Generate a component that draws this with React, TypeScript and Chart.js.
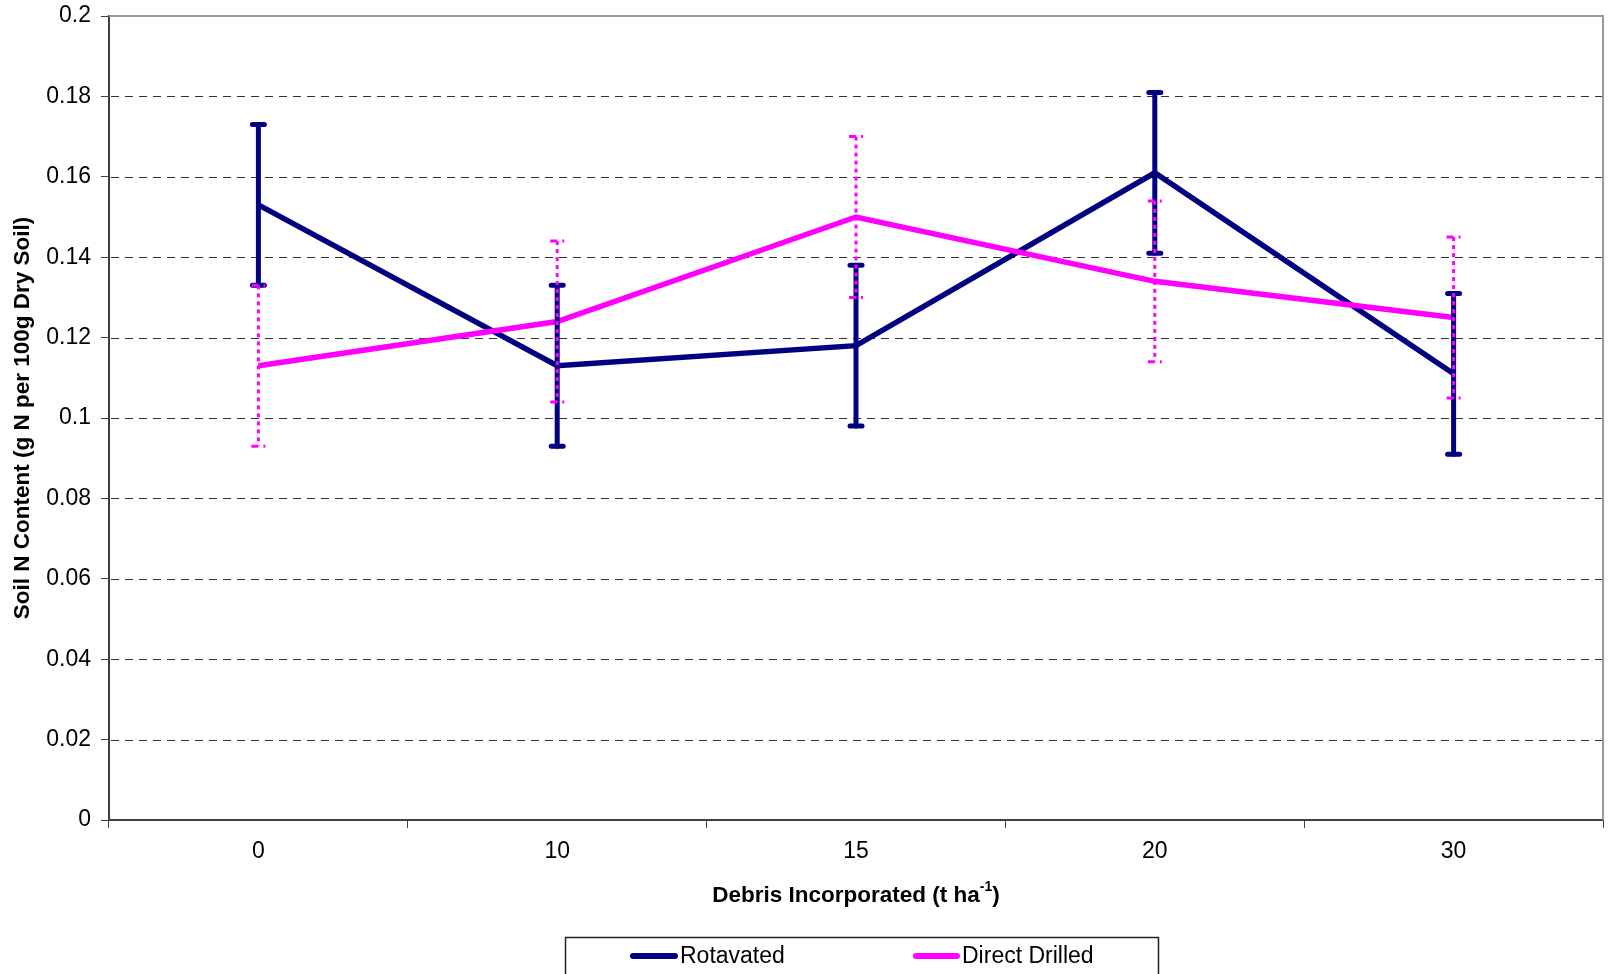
import React, { useEffect, useRef } from "react";
import { Chart, registerables } from "chart.js";

Chart.register(...registerables);

const categories = ["0", "10", "15", "20", "30"];
const rotavated = [0.153, 0.113, 0.118, 0.161, 0.111];
const rotavatedErr = [0.02, 0.02, 0.02, 0.02, 0.02];
const directDrilled = [0.113, 0.124, 0.15, 0.134, 0.125];
const directDrilledErr = [0.02, 0.02, 0.02, 0.02, 0.02];
const yTicks = [0, 0.02, 0.04, 0.06, 0.08, 0.1, 0.12, 0.14, 0.16, 0.18, 0.2];

const NAVY = "#000080";
const MAGENTA = "#FF00FF";
const FONT = "'Liberation Sans', Arial, sans-serif";

const framePlugin = {
  id: "frame",
  beforeDatasetsDraw(chart: any) {
    const { ctx, chartArea, scales } = chart;
    const y = scales.y;
    ctx.save();
    ctx.lineWidth = 1;
    ctx.strokeStyle = "#333333";
    ctx.setLineDash([8, 6]);
    yTicks.forEach((v) => {
      if (v <= 0 || v >= 0.2) return;
      const py = Math.round(y.getPixelForValue(v)) + 0.5;
      ctx.beginPath();
      ctx.moveTo(chartArea.left + 2, py);
      ctx.lineTo(chartArea.right, py);
      ctx.stroke();
    });
    ctx.setLineDash([]);
    ctx.strokeStyle = "#9a9a9a";
    ctx.lineWidth = 2;
    ctx.beginPath();
    ctx.moveTo(chartArea.left, chartArea.top);
    ctx.lineTo(chartArea.right, chartArea.top);
    ctx.lineTo(chartArea.right, chartArea.bottom);
    ctx.stroke();
    ctx.restore();
  },
};

function drawErr(chart: any, values: number[], errs: number[], color: string, dashed: boolean) {
  const { ctx, scales } = chart;
  const x = scales.x;
  const y = scales.y;
  ctx.save();
  ctx.strokeStyle = color;
  values.forEach((v, i) => {
    const px = x.getPixelForValue(i);
    const top = y.getPixelForValue(v + errs[i]);
    const bot = y.getPixelForValue(v - errs[i]);
    if (dashed) {
      ctx.lineWidth = 3;
      ctx.lineCap = "butt";
      ctx.setLineDash([4, 4]);
      ctx.beginPath();
      ctx.moveTo(px, top);
      ctx.lineTo(px, bot);
      ctx.stroke();
      ctx.setLineDash([7, 5]);
      [top, bot].forEach((yy) => {
        ctx.beginPath();
        ctx.moveTo(px - 7, yy);
        ctx.lineTo(px + 7, yy);
        ctx.stroke();
      });
    } else {
      ctx.lineWidth = 5;
      ctx.lineCap = "round";
      ctx.setLineDash([]);
      ctx.beginPath();
      ctx.moveTo(px, top);
      ctx.lineTo(px, bot);
      ctx.stroke();
      [top, bot].forEach((yy) => {
        ctx.beginPath();
        ctx.moveTo(px - 6, yy);
        ctx.lineTo(px + 6, yy);
        ctx.stroke();
      });
    }
  });
  ctx.restore();
}

const errPlugin = {
  id: "errbars",
  afterDatasetsDraw(chart: any) {
    drawErr(chart, rotavated, rotavatedErr, NAVY, false);
    drawErr(chart, directDrilled, directDrilledErr, MAGENTA, true);
  },
};

const textPlugin = {
  id: "texts",
  afterDraw(chart: any) {
    const { ctx, chartArea } = chart;
    ctx.save();
    ctx.fillStyle = "#000";
    ctx.font = `bold 22.5px ${FONT}`;
    ctx.textAlign = "center";
    ctx.textBaseline = "middle";
    ctx.translate(23, (chartArea.top + chartArea.bottom) / 2);
    ctx.rotate(-Math.PI / 2);
    ctx.fillText("Soil N Content (g N per 100g Dry Soil)", 0, 0);
    ctx.restore();

    ctx.save();
    ctx.fillStyle = "#000";
    ctx.textBaseline = "middle";
    ctx.textAlign = "left";
    const main = "Debris Incorporated (t ha";
    const sup = "-1";
    const close = ")";
    ctx.font = `bold 22.5px ${FONT}`;
    const w1 = ctx.measureText(main).width;
    const w3 = ctx.measureText(close).width;
    ctx.font = `bold 14px ${FONT}`;
    const w2 = ctx.measureText(sup).width;
    const total = w1 + w2 + w3;
    const cx = (chartArea.left + chartArea.right) / 2;
    let sx = cx - total / 2;
    const cy = 896;
    ctx.font = `bold 22.5px ${FONT}`;
    ctx.fillText(main, sx, cy);
    sx += w1;
    ctx.font = `bold 14px ${FONT}`;
    ctx.fillText(sup, sx, cy - 9);
    sx += w2;
    ctx.font = `bold 22.5px ${FONT}`;
    ctx.fillText(close, sx, cy);
    ctx.restore();

    ctx.save();
    ctx.strokeStyle = "#222";
    ctx.lineWidth = 1.5;
    ctx.strokeRect(565.5, 937.5, 593, 60);
    ctx.lineCap = "round";
    ctx.lineWidth = 6;
    ctx.strokeStyle = NAVY;
    ctx.beginPath();
    ctx.moveTo(633, 956);
    ctx.lineTo(675, 956);
    ctx.stroke();
    ctx.strokeStyle = MAGENTA;
    ctx.beginPath();
    ctx.moveTo(916, 956);
    ctx.lineTo(957, 956);
    ctx.stroke();
    ctx.fillStyle = "#000";
    ctx.font = `23px ${FONT}`;
    ctx.textBaseline = "middle";
    ctx.textAlign = "left";
    ctx.fillText("Rotavated", 680, 957);
    ctx.fillText("Direct Drilled", 962, 957);
    ctx.restore();
  },
};

export default function App() {
  const ref = useRef<HTMLCanvasElement>(null);
  useEffect(() => {
    if (!ref.current) return;
    const chart = new Chart(ref.current, {
      type: "line",
      data: {
        labels: categories,
        datasets: [
          {
            label: "Rotavated",
            data: rotavated,
            borderColor: NAVY,
            backgroundColor: NAVY,
            borderWidth: 5.5,
            pointRadius: 0,
            tension: 0,
            order: 1,
          },
          {
            label: "Direct Drilled",
            data: directDrilled,
            borderColor: MAGENTA,
            backgroundColor: MAGENTA,
            borderWidth: 5.5,
            pointRadius: 0,
            tension: 0,
            order: 0,
          },
        ],
      },
      options: {
        responsive: false,
        animation: false,
        devicePixelRatio: 1,
        layout: { padding: { left: 0, top: 16, right: 6, bottom: 0 } },
        plugins: {
          legend: { display: false },
          tooltip: { enabled: false },
          title: { display: false },
        },
        scales: {
          x: {
            type: "category",
            offset: true,
            grid: {
              display: true,
              drawOnChartArea: false,
              drawTicks: true,
              tickLength: 8,
              offset: true,
              color: "#404040",
              lineWidth: 1,
            },
            border: { display: true, color: "#404040", width: 2 },
            ticks: {
              color: "#000",
              font: { family: FONT, size: 23 },
              padding: 10,
              maxRotation: 0,
            },
            afterFit: (s: any) => {
              s.height = 154;
              s.paddingLeft = 0;
              s.paddingRight = 0;
            },
          },
          y: {
            type: "linear",
            min: 0,
            max: 0.2,
            afterBuildTicks: (s: any) => {
              s.ticks = yTicks.map((v) => ({ value: v }));
            },
            grid: {
              display: true,
              drawOnChartArea: false,
              drawTicks: true,
              tickLength: 8,
              color: "#404040",
              lineWidth: 1,
            },
            border: { display: true, color: "#404040", width: 2 },
            ticks: {
              color: "#000",
              font: { family: FONT, size: 23 },
              padding: 10,
              callback: (v: any) => String(Number(v)),
            },
            afterFit: (s: any) => {
              s.width = 109;
              s.paddingTop = 0;
              s.paddingBottom = 0;
            },
          },
        },
      },
      plugins: [framePlugin, errPlugin, textPlugin],
    });
    return () => chart.destroy();
  }, []);
  return (
    <div style={{ position: "fixed", left: 0, top: 0, width: 1609, height: 974, background: "#fff" }}>
      <canvas ref={ref} width={1609} height={974} style={{ width: 1609, height: 974, display: "block" }} />
    </div>
  );
}
